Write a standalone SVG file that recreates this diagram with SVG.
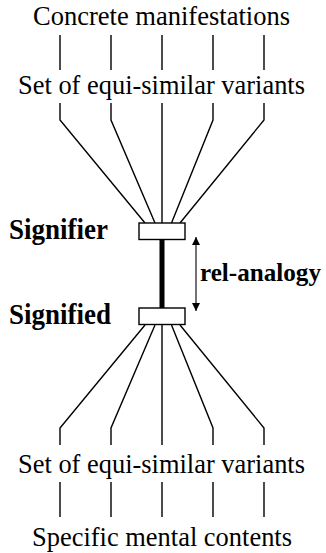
<svg xmlns="http://www.w3.org/2000/svg" width="326" height="553" viewBox="0 0 326 553" font-family="Liberation Serif, serif">
<style>
text{font-size:27px;fill:#000}
.b{font-weight:bold;font-size:30px}
.ln{fill:none;stroke:#000;stroke-width:1.4}
.box{fill:#fff;stroke:#000;stroke-width:1.4}
</style>
<defs>
<marker id="ah" viewBox="0 0 10 10" refX="10" refY="5" markerWidth="8" markerHeight="10" markerUnits="userSpaceOnUse" orient="auto-start-reverse">
<path d="M0,0 L10,5 L0,10 Z" fill="#000"/>
</marker>
</defs>
<g id="connectors">
<path class="ln" d="M60,35V70M111,35V70M162,35V70M213,35V70M264,35V70"/>
<path class="ln" d="M60,103V120L145,223M111,103V120L155,223M162,103V223M213,103V120L171.5,223M264,103V120L180,223"/>
<path class="ln" d="M145,325L60,428V445M155,325L111,428V445M162,325V445M171.5,325L213,428V445M180,325L264,428V445"/>
<path class="ln" d="M60,482V517M111,482V517M162,482V517M213,482V517M264,482V517"/>
<line x1="162" y1="240" x2="162" y2="308" stroke="#000" stroke-width="5" stroke-linecap="round"/>
<line x1="196" y1="237" x2="196" y2="311" stroke="#000" stroke-width="1.1" marker-start="url(#ah)" marker-end="url(#ah)"/>
</g>
<g id="concrete"><text x="33" y="25" textLength="257" lengthAdjust="spacingAndGlyphs">Concrete manifestations</text></g>
<g id="variants-top"><text x="18" y="94" textLength="287" lengthAdjust="spacingAndGlyphs">Set of equi-similar variants</text></g>
<g id="signifier">
<rect class="box" x="139" y="223" width="46" height="16.5"/>
<text class="b" x="9" y="239" textLength="99" lengthAdjust="spacingAndGlyphs">Signifier</text>
</g>
<g id="relation"><text class="b" x="200" y="281" font-size="26" style="font-size:26px" textLength="121" lengthAdjust="spacingAndGlyphs">rel-analogy</text></g>
<g id="signified">
<rect class="box" x="139" y="308" width="46" height="16.5"/>
<text class="b" x="9" y="324" textLength="102" lengthAdjust="spacingAndGlyphs">Signified</text>
</g>
<g id="variants-bottom"><text x="18" y="473" textLength="287" lengthAdjust="spacingAndGlyphs">Set of equi-similar variants</text></g>
<g id="mental"><text x="32" y="546" textLength="260" lengthAdjust="spacingAndGlyphs">Specific mental contents</text></g>
</svg>
